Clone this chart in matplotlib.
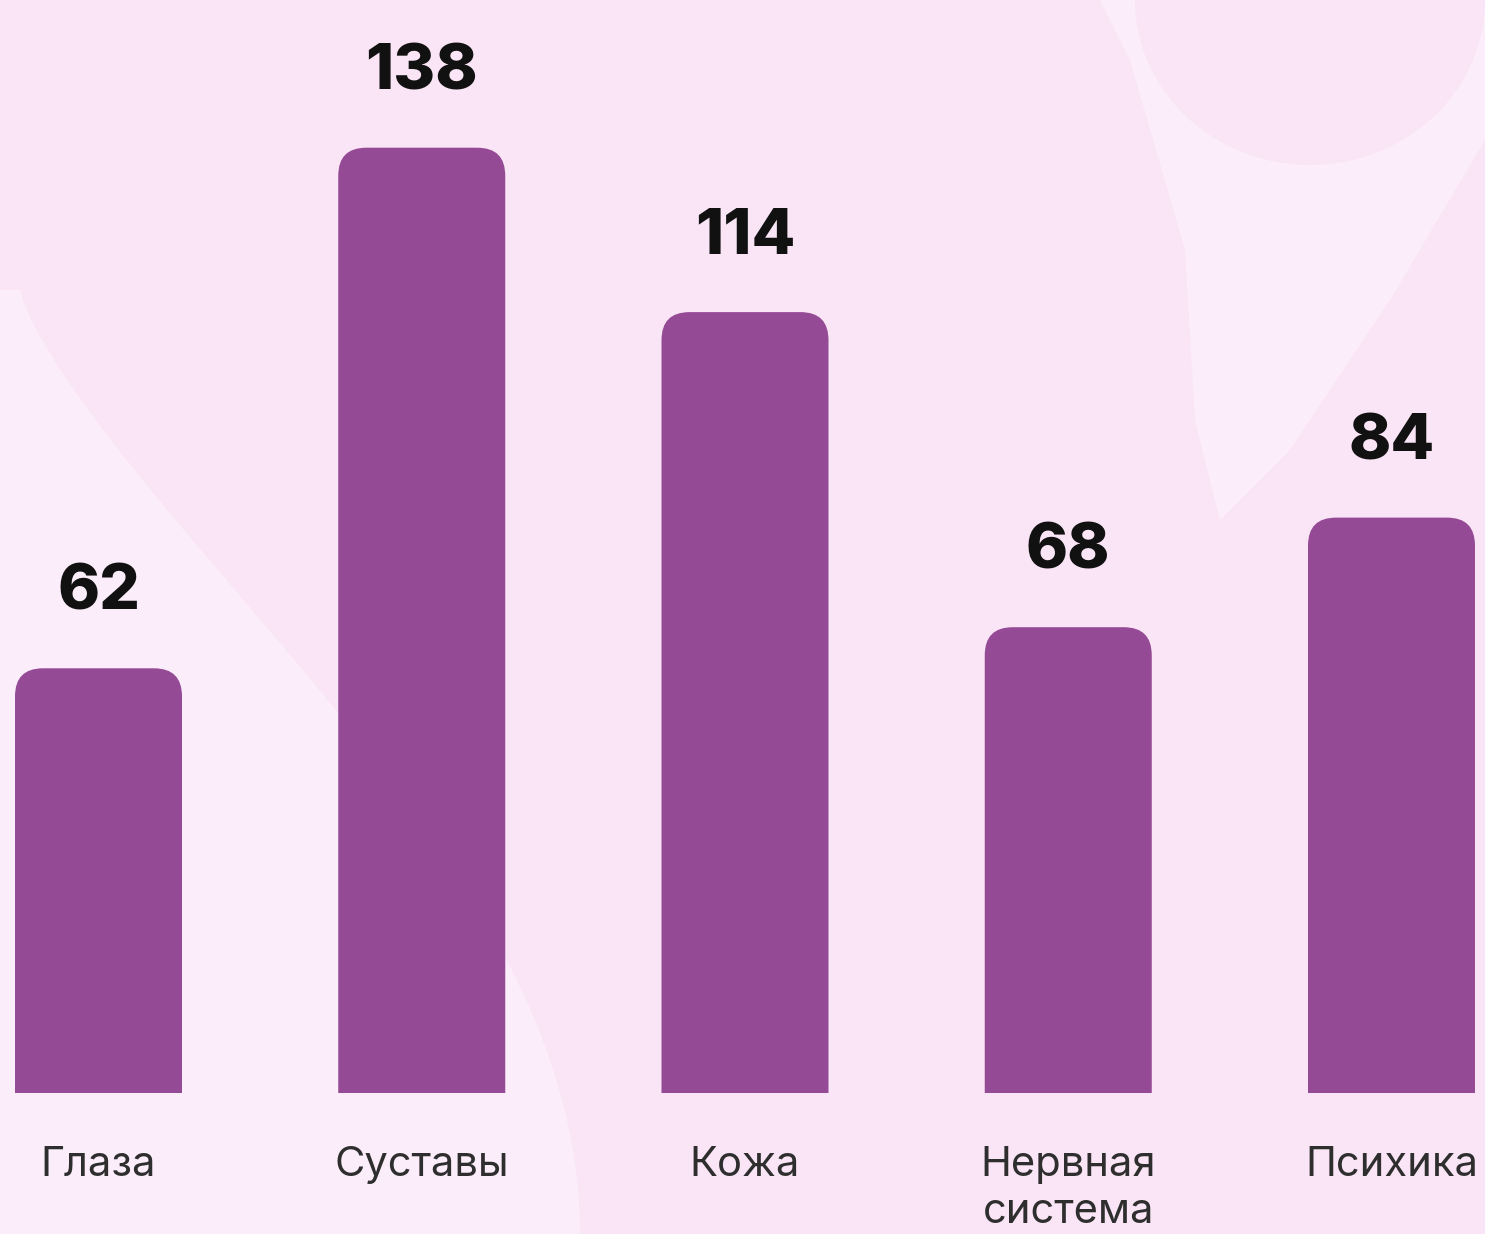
import matplotlib
matplotlib.use("Agg")
import matplotlib.pyplot as plt
from matplotlib.patches import FancyBboxPatch, Polygon
import numpy as np

categories = ["Глаза", "Суставы", "Кожа", "Нервная\nсистема", "Психика"]
values = [62, 138, 114, 68, 84]

W, H, DPI = 1485, 1234, 100
fig = plt.figure(figsize=(W / DPI, H / DPI), dpi=DPI)
bg = "#FAE5F6"
light = "#FBEDFA"
fig.patch.set_facecolor(bg)

# decorative background swooshes (figure pixel coords)
deco = fig.add_axes([0, 0, 1, 1])
deco.set_xlim(0, W); deco.set_ylim(H, 0); deco.axis("off")
deco.set_facecolor(bg)
t = np.linspace(0, 1, 80)
edge_x = 20 + 560 * np.sin(t * np.pi / 2) ** 1.3
edge_y = 290 + 944 * t
pts_left = np.column_stack([np.concatenate([[0], edge_x, [0]]),
                            np.concatenate([[290], edge_y, [1234]])])
deco.add_patch(Polygon(pts_left, closed=True, facecolor=light, edgecolor="none"))
# top-right light band around a pink circle
ang = np.linspace(np.pi, 0, 80)
inner = np.column_stack([1310 + 175 * np.cos(ang), 165 * np.sin(ang)])
outer = np.array([[1485, 0], [1485, 140], [1390, 300], [1290, 450], [1220, 520],
                  [1195, 420], [1185, 250], [1130, 60], [1100, 0]])
deco.add_patch(Polygon(np.vstack([inner, outer]), closed=True, facecolor=light,
                       edgecolor="none"))

# main axes
base_px = 141
px_per_unit_y = 6.85
ax = fig.add_axes([0, base_px / H, 1, 1 - base_px / H])
ax.patch.set_alpha(0)
x0_px, step_px = 98.5, 323.25
ax.set_xlim(-x0_px / step_px, (W - x0_px) / step_px)
ax.set_ylim(0, (H - base_px) / px_per_unit_y)
ax.axis("off")

bar_w = 167 / step_px
radius_px = 28
r_x = radius_px / step_px
aspect = step_px / px_per_unit_y
purple = "#954A96"
for i, (c, v) in enumerate(zip(categories, values)):
    p = FancyBboxPatch((i - bar_w / 2, -20), bar_w, v + 20,
                       boxstyle=f"round,pad=0,rounding_size={r_x}",
                       mutation_aspect=aspect, facecolor=purple, edgecolor="none")
    ax.add_patch(p)
    ax.annotate(str(v), (i, v), xytext=(0, 54), textcoords="offset points",
                ha="center", va="center", fontsize=46, fontweight="heavy",
                family=["Inter", "DejaVu Sans"], color="#111111")
    ax.text(i, -53 / px_per_unit_y, c, ha="center", va="top", fontsize=30,
            family=["Inter", "DejaVu Sans"], color="#2e2e2e", linespacing=1.3,
            clip_on=False)

fig.savefig("out.png", dpi=DPI, facecolor=fig.get_facecolor())
